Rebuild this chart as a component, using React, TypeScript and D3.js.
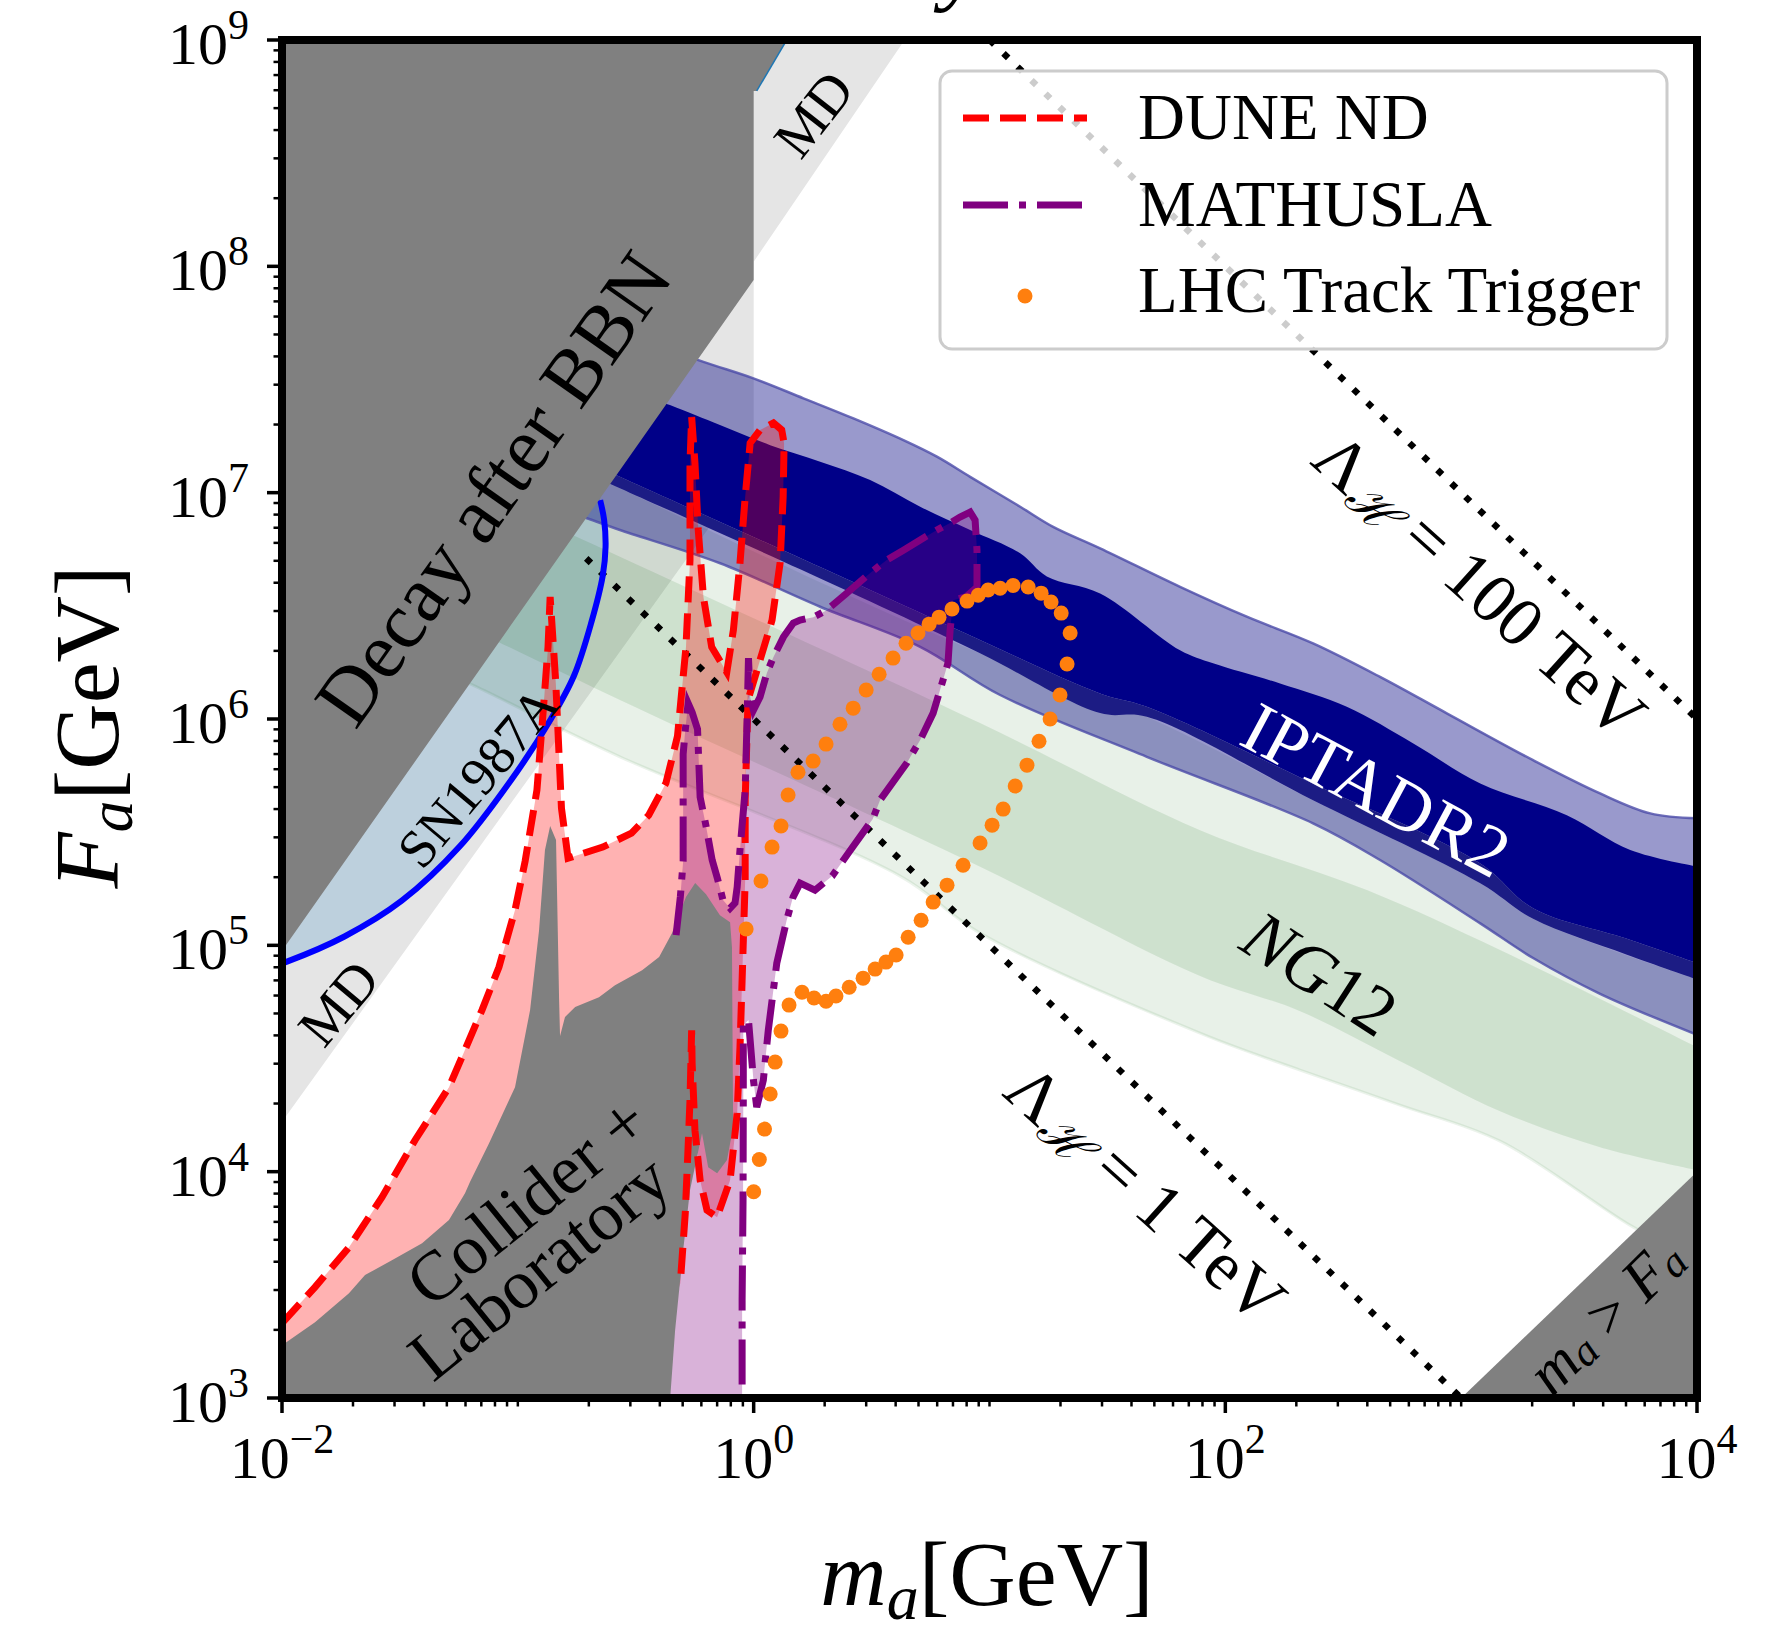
import React from 'react';
import * as d3 from 'd3';

// every point is [log10(m_a / GeV), log10(F_a / GeV)]
type P = [number, number];

const W = 1769;
const H = 1632;
const margin = { left: 282, right: 72, top: 40, bottom: 234 };
const FONT = "'Liberation Serif', 'DejaVu Serif', serif";

// ---- excluded regions ----
const mdRegion: P[] = [[-2, 4.22], [0, 7.12], [0, 8.02], [0.64, 9], [-2, 9]];
const bbnRegion: P[] = [[-2, 9], [0.14, 9], [0.013, 8.775], [0, 8.775], [0, 7.94], [-2, 4.976]];
const bbnEdge: P[] = [[0.013, 8.775], [0.14, 9]];
const maGtFaRegion: P[] = [[3, 3], [4, 4], [4, 3]];

const snCurve: P[] = [
  [-2, 4.921], [-1.979, 4.928], [-1.735, 5.039], [-1.492, 5.197], [-1.249, 5.434], [-1.005, 5.765],
  [-0.859, 6.001], [-0.762, 6.191], [-0.688, 6.428], [-0.64, 6.633], [-0.628, 6.76], [-0.634, 6.879], [-0.651, 6.967],
];
const snClosure: P[] = [[-0.651, 9], [-2, 9]];

const colliderRegion: P[] = [
  [-2, 3.0], [-2, 3.233], [-1.86, 3.335], [-1.716, 3.463], [-1.648, 3.543], [-1.534, 3.609], [-1.406, 3.684],
  [-1.292, 3.786], [-1.224, 3.905], [-1.203, 3.954], [-1.122, 4.126], [-1.012, 4.373], [-0.948, 4.714],
  [-0.91, 5.067], [-0.885, 5.421], [-0.863, 5.527], [-0.838, 5.465], [-0.825, 4.758], [-0.821, 4.599],
  [-0.8, 4.683], [-0.757, 4.727], [-0.656, 4.771], [-0.588, 4.824], [-0.473, 4.89], [-0.401, 4.948],
  [-0.346, 5.054], [-0.287, 5.213], [-0.248, 5.275], [-0.202, 5.226], [-0.143, 5.133], [-0.1, 5.102],
  [-0.092, 4.992], [-0.087, 4.197], [-0.113, 4.051], [-0.155, 3.993], [-0.193, 4.02], [-0.219, 4.17],
  [-0.27, 3.918], [-0.299, 3.653], [-0.333, 3.3], [-0.354, 3.0],
];

// ---- pulsar timing bands ----
const iptaUpper: P[] = [
  [-0.6, 7.72], [-0.213, 7.578], [-0.001, 7.505], [0.211, 7.417], [0.423, 7.328], [0.635, 7.232], [0.777, 7.159],
  [0.918, 7.07], [1.13, 6.938], [1.27, 6.849], [1.469, 6.754], [1.808, 6.584], [2.091, 6.452], [2.372, 6.334],
  [2.656, 6.186], [2.939, 6.025], [3.305, 5.818], [3.589, 5.671], [3.802, 5.583], [4.0, 5.561],
];
const iptaNavyTop: P[] = [
  [-0.7, 7.53], [-0.355, 7.387], [-0.143, 7.299], [0.07, 7.21], [0.282, 7.137], [0.494, 7.056], [0.706, 6.938],
  [0.918, 6.835], [1.13, 6.732], [1.243, 6.63], [1.469, 6.555], [1.808, 6.304], [1.948, 6.246], [2.232, 6.157],
  [2.515, 6.054], [2.797, 5.892], [3.081, 5.715], [3.448, 5.575], [3.717, 5.421], [4.0, 5.348],
];
const iptaNavyBottom: P[] = [
  [-0.7, 7.133], [-0.567, 7.07], [0.2, 6.71], [0.96, 6.349], [1.469, 6.113], [1.667, 6.054], [2.372, 5.715],
  [3.081, 5.362], [3.305, 5.164], [3.7, 5.03], [4.0, 4.921],
];
const iptaStripBottom: P[] = [
  [-0.7, 7.083], [-0.567, 7.02], [0.2, 6.66], [0.96, 6.29], [1.469, 6.026], [1.667, 6.01], [2.372, 5.641],
  [3.081, 5.274], [3.305, 5.117], [3.7, 4.96], [4.0, 4.85],
];
const iptaLower: P[] = [
  [-0.8, 6.92], [-0.685, 6.879], [-0.567, 6.835], [-0.142, 6.688], [0.282, 6.496], [0.706, 6.319], [1.045, 6.106],
  [1.667, 5.833], [2.372, 5.539], [2.656, 5.377], [3.081, 5.097], [3.305, 4.944], [3.589, 4.786], [4.0, 4.605],
];

const ng12OuterTop: P[] = [
  [-1.3, 7.4], [-0.567, 7.02], [0.96, 6.29], [1.667, 6.01], [2.372, 5.641], [3.081, 5.274], [3.305, 5.117], [4.0, 4.85],
];
const ng12InnerTop: P[] = [
  [-1.3, 7.07], [-0.567, 6.717], [0.96, 5.982], [1.893, 5.509], [2.6, 5.244], [3.165, 4.979], [4.0, 4.55],
];
const ng12InnerBottom: P[] = [
  [-1.3, 6.45], [-0.567, 6.084], [0.96, 5.347], [1.893, 4.865], [2.317, 4.709], [2.741, 4.488], [3.165, 4.267],
  [3.589, 4.108], [4.0, 4.007],
];
const ng12OuterBottom: P[] = [
  [-1.3, 6.2], [-1.177, 6.143], [-0.567, 5.833], [0.621, 5.306], [0.96, 5.054], [1.893, 4.612], [2.317, 4.449],
  [2.741, 4.294], [3.165, 4.135], [3.73, 3.755], [4.0, 3.61],
];

// ---- sensitivities ----
const duneCurve: P[] = [
  [-2, 3.331], [-1.86, 3.49], [-1.716, 3.666], [-1.576, 3.887], [-1.436, 4.139], [-1.292, 4.373], [-1.152, 4.714],
  [-1.08, 4.904], [-1.012, 5.156], [-0.969, 5.372], [-0.919, 5.686], [-0.895, 6.0], [-0.872, 6.318], [-0.863, 6.539],
  [-0.839, 6.159], [-0.815, 5.606], [-0.787, 5.385], [-0.64, 5.434], [-0.518, 5.496], [-0.445, 5.575], [-0.372, 5.717],
  [-0.323, 5.924], [-0.287, 6.318], [-0.27, 6.702], [-0.27, 7.131], [-0.263, 7.334], [-0.249, 7.131], [-0.235, 6.835],
  [-0.213, 6.539], [-0.178, 6.318], [-0.114, 6.207], [-0.086, 6.393], [-0.058, 6.689], [-0.036, 6.981], [-0.015, 7.219],
  [0.027, 7.277], [0.084, 7.308], [0.119, 7.277], [0.129, 7.219], [0.125, 6.981], [0.112, 6.689], [0.078, 6.437],
  [0.027, 6.26], [-0.024, 6.084], [-0.036, 5.642], [-0.036, 5.288], [-0.049, 4.846], [-0.058, 4.55], [-0.07, 4.258],
  [-0.1, 3.962], [-0.155, 3.799], [-0.198, 3.83], [-0.227, 3.962], [-0.249, 4.183], [-0.261, 4.48], [-0.263, 4.625],
  [-0.27, 4.316], [-0.278, 4.108], [-0.29, 3.817], [-0.311, 3.507],
];
const duneClosure: P[] = [[-0.33, 3.45], [-0.5, 3.0], [-2, 3.0]];

const mathuslaCurve: P[] = [
  [-0.329, 5.045], [-0.311, 5.213], [-0.299, 5.372], [-0.299, 5.642], [-0.299, 5.845], [-0.29, 5.951], [-0.278, 6.07],
  [-0.261, 6.03], [-0.238, 5.955], [-0.227, 5.655], [-0.202, 5.527], [-0.176, 5.377], [-0.153, 5.293], [-0.13, 5.2],
  [-0.1, 5.164], [-0.079, 5.187], [-0.07, 5.257], [-0.058, 5.421], [-0.036, 5.686], [-0.028, 5.995], [-0.022, 6.269],
  [-0.015, 6.097], [-0.001, 6.039], [0.027, 6.097], [0.056, 6.203], [0.084, 6.274], [0.126, 6.362], [0.168, 6.424],
  [0.197, 6.437], [0.253, 6.45], [0.31, 6.481], [0.395, 6.556], [0.494, 6.645], [0.564, 6.702], [0.635, 6.746],
  [0.706, 6.791], [0.777, 6.835], [0.833, 6.866], [0.875, 6.892], [0.918, 6.914], [0.939, 6.879], [0.947, 6.746],
  [0.947, 6.583], [0.9, 6.54], [0.846, 6.525], [0.833, 6.393], [0.824, 6.247], [0.803, 6.172], [0.761, 6.026],
  [0.706, 5.907], [0.649, 5.805], [0.536, 5.642], [0.505, 5.558], [0.407, 5.416], [0.333, 5.306], [0.26, 5.244],
  [0.197, 5.275], [0.167, 5.213], [0.14, 5.111], [0.098, 4.921], [0.062, 4.625], [0.041, 4.404], [0.013, 4.285],
  [-0.001, 4.404], [-0.022, 4.67], [-0.044, 4.647], [-0.044, 4.316], [-0.045, 3.874], [-0.049, 3.432], [-0.049, 3.0],
];
const mathuslaClosure: P[] = [[-0.36, 3.0], [-0.33, 4.9]];

const lhcTrackTrigger: P[] = [
  [0.0, 3.911], [0.024, 4.054], [0.046, 4.188], [0.07, 4.343], [0.091, 4.484], [0.116, 4.621], [0.15, 4.736],
  [0.205, 4.793], [0.256, 4.767], [0.307, 4.753], [0.349, 4.776], [0.405, 4.815], [0.464, 4.855], [0.515, 4.895],
  [0.561, 4.926], [0.604, 4.957], [0.655, 5.036], [0.71, 5.111], [0.761, 5.191], [0.82, 5.266], [0.888, 5.354],
  [0.96, 5.452], [1.011, 5.531], [1.058, 5.602], [1.109, 5.704], [1.159, 5.796], [1.21, 5.902], [1.257, 6.0],
  [1.299, 6.106], [1.329, 6.243], [1.342, 6.38], [1.304, 6.468], [1.261, 6.517], [1.219, 6.556], [1.164, 6.583],
  [1.1, 6.59], [1.045, 6.578], [0.994, 6.57], [0.952, 6.547], [0.905, 6.521], [0.841, 6.486], [0.786, 6.45],
  [0.744, 6.419], [0.697, 6.38], [0.646, 6.335], [0.591, 6.269], [0.532, 6.198], [0.477, 6.128], [0.422, 6.048],
  [0.366, 5.977], [0.307, 5.889], [0.252, 5.814], [0.188, 5.765], [0.146, 5.664], [0.116, 5.527], [0.078, 5.434],
  [0.031, 5.284], [-0.032, 5.072],
];

// Lambda_H contours (end points)
const lambda1TeV: P[] = [[-0.71, 6.71], [3, 3]];
const lambda100TeV: P[] = [[1, 9], [4, 6]];

// ---- axes ----
const xMajor = [-2, 0, 2, 4];
const yMajor = [3, 4, 5, 6, 7, 8, 9];

const x = d3.scaleLog().domain([1e-2, 1e4]).range([margin.left, W - margin.right]);
const y = d3.scaleLog().domain([1e3, 1e9]).range([H - margin.bottom, margin.top]);

const toXY = (p: P) => [x(10 ** p[0]), y(10 ** p[1])];
const path = d3.line<P>().x((p) => x(10 ** p[0])).y((p) => y(10 ** p[1]));
const smooth = d3.line<P>().x((p) => x(10 ** p[0])).y((p) => y(10 ** p[1])).curve(d3.curveCatmullRom.alpha(0.5));
const area = (pts: P[]) => path(pts) + 'Z';
// smooth band: upper edge left->right, then lower edge right->left
const band = (upper: P[], lower: P[]) =>
  smooth(upper) + 'L' + (smooth([...lower].reverse()) as string).slice(1) + 'Z';

const xMinor = d3.range(-2, 4).flatMap((k) => d3.range(1, 10).map((s) => s * 10 ** k))
  .filter((v) => !xMajor.some((e) => Math.abs(Math.log10(v) - e) < 1e-9));
const yMinor = d3.range(3, 9).flatMap((k) => d3.range(2, 10).map((s) => s * 10 ** k));

const Label = ({ at, angle, size, fill = '#000', children }: any) => {
  const [cx, cy] = toXY(at);
  return (
    <text transform={`translate(${cx},${cy}) rotate(${angle})`} textAnchor="middle"
      dominantBaseline="central" fontSize={size} fill={fill} fontFamily={FONT}>
      {children}
    </text>
  );
};

const LambdaLabel = ({ at, value }: { at: P; value: string }) => (
  <Label at={at} angle={42} size={70}>
    <tspan>Λ</tspan>
    <tspan fontSize={48} fontStyle="italic" dy={14}>ℋ</tspan>
    <tspan dy={-14}>{` = ${value} TeV`}</tspan>
  </Label>
);

export default function App() {
  const x0 = margin.left;
  const x1 = W - margin.right;
  const y0 = margin.top;
  const y1 = H - margin.bottom;

  return (
    <svg width={W} height={H} style={{ position: 'absolute', left: 0, top: 0, background: '#fff' }}
      fontFamily={FONT}>
      <defs>
        <clipPath id="plot">
          <rect x={x0} y={y0} width={x1 - x0} height={y1 - y0} />
        </clipPath>
      </defs>
      <rect width={W} height={H} fill="#fff" />

      {/* descender of the title line above the frame (cut off in the original too) */}
      <text x={962} y={-6} textAnchor="middle" fontStyle="italic" fontSize={92}>y</text>

      <g clipPath="url(#plot)">
        <path d={area(mdRegion)} fill="#e5e5e5" />
        <path d={smooth(snCurve) + (path(snClosure) as string).replace('M', 'L') + 'Z'} fill="#bdd0dd" />

        {/* NG12 */}
        <path d={band(ng12OuterTop, ng12OuterBottom)} fill="#006400" fillOpacity={0.09} />
        <path d={band(ng12InnerTop, ng12InnerBottom)} fill="#006400" fillOpacity={0.11} />
        <path d={smooth(ng12OuterBottom)!} fill="none" stroke="#006400" strokeOpacity={0.08} strokeWidth={3} />

        {/* IPTA DR2 */}
        <path d={band(iptaUpper, iptaLower)} fill="#000080" fillOpacity={0.4} />
        <path d={band(iptaNavyTop, iptaNavyBottom)} fill="#000088" />
        <path d={band(iptaNavyBottom, iptaStripBottom)} fill="#1c1c84" />
        <path d={smooth(iptaUpper)!} fill="none" stroke="#4b4ba8" strokeOpacity={0.8} strokeWidth={2.5} />
        <path d={smooth(iptaLower)!} fill="none" stroke="#4b4ba8" strokeOpacity={0.8} strokeWidth={2.5} />

        {/* sensitivity fills */}
        <path d={area([...duneCurve, ...duneClosure])} fill="#ff0000" fillOpacity={0.3} />
        <path d={area([...mathuslaCurve, ...mathuslaClosure])} fill="#800080" fillOpacity={0.3} />

        <path d={area(colliderRegion)} fill="#808080" />

        <path d={path(lambda1TeV)!} fill="none" stroke="#000" strokeWidth={6.5} strokeDasharray="6.5 12.9" />
        <path d={path(lambda100TeV)!} fill="none" stroke="#000" strokeWidth={6.5} strokeDasharray="6.5 12.9" />

        <path d={smooth(snCurve)!} fill="none" stroke="#0000ff" strokeWidth={6} />
        <path d={area(bbnRegion)} fill="#808080" />
        <path d={path(bbnEdge)!} fill="none" stroke="#1f77b4" strokeWidth={1.5} />
        <path d={area(maGtFaRegion)} fill="#808080" />

        <path d={path(duneCurve)!} fill="none" stroke="#ff0000" strokeWidth={7} strokeDasharray="26 11" />
        <path d={path(mathuslaCurve)!} fill="none" stroke="#800080" strokeWidth={7} strokeDasharray="45 11 7 11" />

        {lhcTrackTrigger.map((p, i) => {
          const [cx, cy] = toXY(p);
          return <circle key={i} cx={cx} cy={cy} r={7.5} fill="#ff7f0e" />;
        })}
      </g>

      {/* region labels */}
      <Label at={[-1.105, 7.018]} angle={-54.9} size={80}>Decay after BBN</Label>
      <Label at={[0.254, 8.673]} angle={-52} size={56}>MD</Label>
      <Label at={[-1.761, 4.745]} angle={-50} size={56}>MD</Label>
      <Label at={[-1.169, 5.743]} angle={-50} size={54}>SN1987A</Label>
      <Label at={[-0.961, 3.87]} angle={-39} size={70}>Collider +</Label>
      <Label at={[-0.91, 3.578]} angle={-39} size={70}>Laboratory</Label>
      <Label at={[2.64, 5.686]} angle={28} size={72} fill="#fff">IPTADR2</Label>
      <Label at={[2.402, 4.877]} angle={33} size={70}>
        <tspan fontStyle="italic">NG</tspan><tspan>12</tspan>
      </Label>
      <LambdaLabel at={[3.081, 6.592]} value="100" />
      <LambdaLabel at={[1.664, 3.905]} value="1" />
      <Label at={[3.611, 3.366]} angle={-45} size={62}>
        <tspan fontStyle="italic">m</tspan>
        <tspan fontStyle="italic" fontSize={43} dy={10}>a</tspan>
        <tspan dy={-10}>{' > '}</tspan>
        <tspan fontStyle="italic">F</tspan>
        <tspan fontStyle="italic" fontSize={43} dy={10}>a</tspan>
      </Label>

      {/* frame */}
      <rect x={x0} y={y0} width={x1 - x0} height={y1 - y0} fill="none" stroke="#000" strokeWidth={8} />

      {/* x ticks */}
      {xMajor.map((e) => (
        <g key={`xM${e}`}>
          <line x1={x(10 ** e)} x2={x(10 ** e)} y1={y1} y2={y1 + 15} stroke="#000" strokeWidth={3.5} />
          <text x={x(10 ** e)} y={1478} textAnchor="middle" fontSize={60}>
            10<tspan fontSize={42} dy={-25}>{e < 0 ? `−${-e}` : `${e}`}</tspan>
          </text>
        </g>
      ))}
      {xMinor.map((v) => (
        <line key={`xm${v}`} x1={x(v)} x2={x(v)} y1={y1} y2={y1 + 8.5} stroke="#000" strokeWidth={2.5} />
      ))}

      {/* y ticks */}
      {yMajor.map((e) => (
        <g key={`yM${e}`}>
          <line x1={x0 - 15} x2={x0} y1={y(10 ** e)} y2={y(10 ** e)} stroke="#000" strokeWidth={3.5} />
          <text x={249} y={y(10 ** e) + 24} textAnchor="end" fontSize={60}>
            10<tspan fontSize={42} dy={-25}>{e}</tspan>
          </text>
        </g>
      ))}
      {yMinor.map((v) => (
        <line key={`ym${v}`} x1={x0 - 8.5} x2={x0} y1={y(v)} y2={y(v)} stroke="#000" strokeWidth={2.5} />
      ))}

      {/* axis titles */}
      <text x={987} y={1605} textAnchor="middle" fontSize={92}>
        <tspan fontStyle="italic">m</tspan>
        <tspan fontStyle="italic" fontSize={64} dy={14}>a</tspan>
        <tspan dy={-14}>[GeV]</tspan>
      </text>
      <text transform="translate(118,727) rotate(-90)" textAnchor="middle" fontSize={92}>
        <tspan fontStyle="italic">F</tspan>
        <tspan fontStyle="italic" fontSize={64} dy={14}>a</tspan>
        <tspan dy={-14}>[GeV]</tspan>
      </text>

      {/* legend */}
      <g>
        <rect x={940} y={71} width={727} height={278} rx={12} fill="#fff" fillOpacity={0.8}
          stroke="#cccccc" strokeWidth={3} />
        <line x1={963} x2={1087} y1={118} y2={118} stroke="#ff0000" strokeWidth={7} strokeDasharray="26 11" />
        <text x={1138} y={139} fontSize={65}>DUNE ND</text>
        <line x1={963} x2={1087} y1={205} y2={205} stroke="#800080" strokeWidth={7} strokeDasharray="45 11 7 11" />
        <text x={1138} y={226} fontSize={65}>MATHUSLA</text>
        <circle cx={1025} cy={296} r={7.5} fill="#ff7f0e" />
        <text x={1138} y={312} fontSize={65}>LHC Track Trigger</text>
      </g>
    </svg>
  );
}
